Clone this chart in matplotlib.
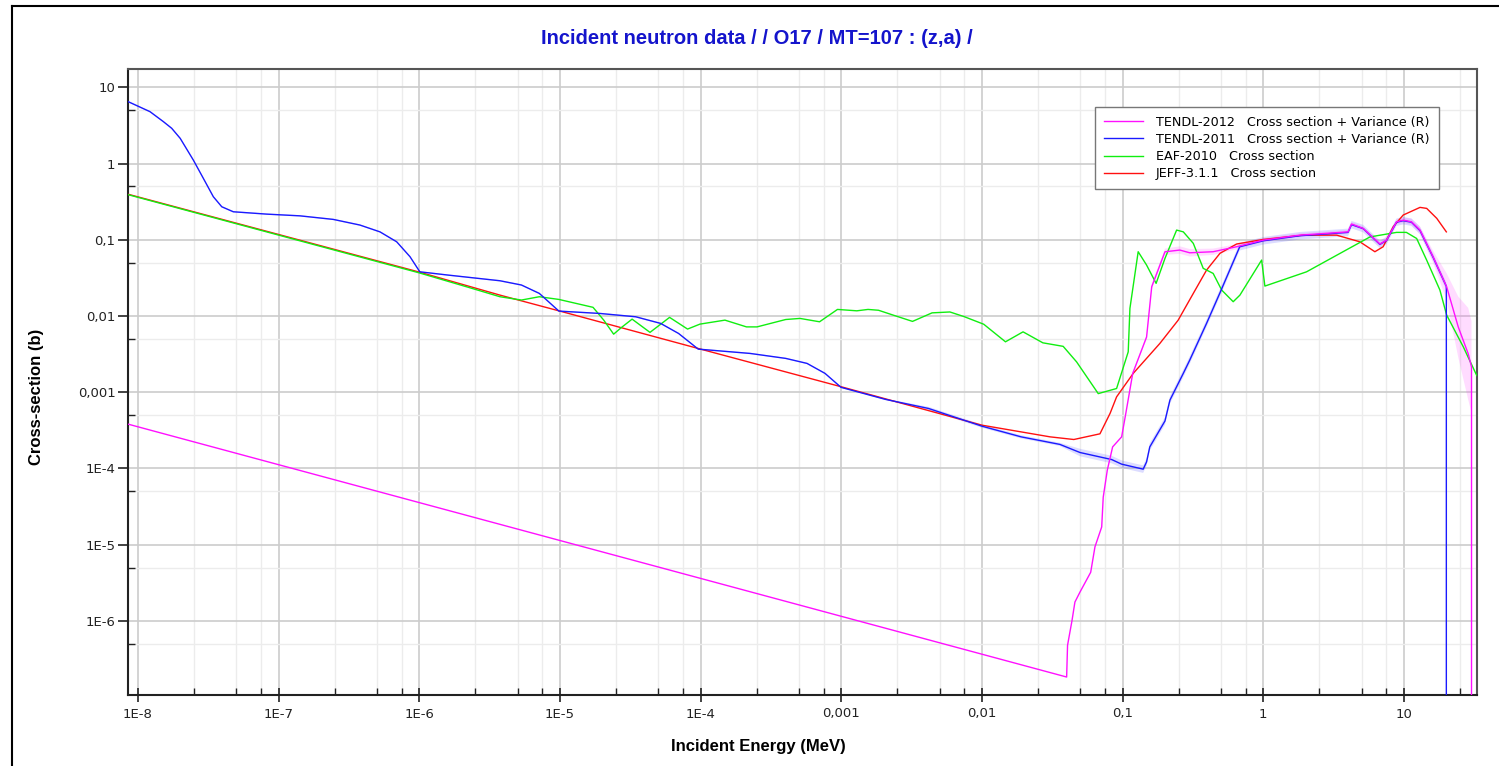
#!/usr/bin/env python3
"""
Incident neutron data, O17 MT=107 (z,a): evaluated cross sections vs energy.
Draws the four evaluations on log-log axes, like the JANIS style plot.
"""

import numpy as np
import matplotlib
matplotlib.use("Agg")
import matplotlib.pyplot as plt
from matplotlib.lines import Line2D
from matplotlib.ticker import FixedLocator, FixedFormatter, NullFormatter

# ---- data (energy in MeV, cross section in b) ----
t12_energy = [8.6e-9, 0.040, 0.0406, 0.0437, 0.0458, 0.0498, 0.0593, 0.0636, 0.071,
              0.0728, 0.0778, 0.0849, 0.0984, 0.1054, 0.118, 0.148, 0.161, 0.2, 0.255,
              0.30, 0.44, 0.645, 1.0, 1.82, 4.0, 4.24, 5.13, 6.74, 7.52, 8.85, 9.87,
              11.3, 13.0, 16.1, 20.1, 24.3, 28.6, 30.2, 30.2]
t12_xs = [3.8e-4, 1.84e-7, 4.8e-7, 1.02e-6, 1.77e-6, 2.4e-6, 4.35e-6, 9.4e-6, 1.71e-5,
          4.2e-5, 9.5e-5, 1.92e-4, 2.6e-4, 5.3e-4, 1.77e-3, 5.3e-3, 0.0242, 0.0696, 0.0733,
          0.0675, 0.0697, 0.081, 0.099, 0.115, 0.127, 0.161, 0.141, 0.088, 0.099, 0.172,
          0.181, 0.172, 0.134, 0.0598, 0.0242, 0.0072, 0.0032, 0.00215, 1e-12]
# relative variance (1 sigma) for TENDL-2012
t12_rel = [0, 0, 0, 0, 0, 0, 0, 0, 0,
           0, 0, 0, 0, 0, 0.05, 0.06, 0.08, 0.1, 0.12,
           0.12, 0.1, 0.08, 0.06, 0.06, 0.06, 0.06, 0.06, 0.08, 0.08, 0.08, 0.08,
           0.1, 0.12, 0.2, 0.5, 1.5, 3.0, 3.0, 0]

t11_energy = [8.55e-9, 1.22e-8, 1.52e-8, 1.74e-8, 2.0e-8, 2.48e-8, 2.92e-8, 3.44e-8,
              3.95e-8, 4.77e-8, 8.24e-8, 1.42e-7, 2.45e-7, 3.79e-7, 5.26e-7, 6.92e-7,
              8.6e-7, 1.01e-6, 1.61e-6, 3.75e-6, 5.33e-6, 7.14e-6, 9.84e-6, 1.93e-5,
              3.46e-5, 5.2e-5, 6.98e-5, 9.62e-5, 2.25e-4, 4.03e-4, 5.71e-4, 7.66e-4,
              9.96e-4, 2.07e-3, 4.17e-3, 1.0e-2, 1.9e-2, 3.58e-2, 0.0498, 0.0836, 0.0984,
              0.140, 0.148, 0.156, 0.2, 0.217, 0.27, 0.30, 0.395, 0.49, 0.68, 1.0, 1.82,
              4.0, 4.24, 5.13, 6.74, 7.52, 8.85, 9.87, 11.3, 13.0, 16.1, 20.0, 20.0]
t11_xs = [6.47, 4.79, 3.54, 2.9, 2.14, 1.11, 0.64, 0.367,
          0.271, 0.233, 0.217, 0.206, 0.185, 0.156, 0.127, 0.094,
          0.060, 0.038, 0.0344, 0.029, 0.0255, 0.0198, 0.0116, 0.0108,
          0.00977, 0.0080, 0.0059, 0.00368, 0.00323, 0.00278, 0.00239, 0.00177,
          0.00116, 8.05e-4, 6.13e-4, 3.59e-4, 2.6e-4, 2.07e-4, 1.62e-4, 1.31e-4, 1.14e-4,
          9.8e-5, 1.22e-4, 1.92e-4, 4.2e-4, 7.9e-4, 1.77e-3, 2.64e-3, 8.0e-3, 0.0198, 0.081,
          0.097, 0.113, 0.125, 0.158, 0.14, 0.087, 0.098, 0.17, 0.178, 0.17, 0.132, 0.059,
          0.0245, 1e-12]
t11_rel = [0.02] * 34 + [0.05] * 4 + [0.12] * 26 + [0]

eaf_energy = [8.55e-9, 1e-6, 2.2e-6, 3.75e-6, 5.33e-6, 7.14e-6, 9.84e-6, 1.72e-5, 2.05e-5,
              2.41e-5, 2.74e-5, 3.26e-5, 4.37e-5, 6.02e-5, 8.08e-5, 9.9e-5, 1.49e-4,
              2.12e-4, 2.52e-4, 4.03e-4, 5.09e-4, 7.01e-4, 9.4e-4, 1.29e-3, 1.55e-3,
              1.84e-3, 2.33e-3, 3.21e-3, 4.42e-3, 5.92e-3, 7.49e-3, 1.03e-2, 1.47e-2,
              1.96e-2, 2.71e-2, 3.78e-2, 4.71e-2, 6.71e-2, 9.06e-2, 0.1096, 0.1127, 0.129,
              0.148, 0.173, 0.2, 0.242, 0.27, 0.318, 0.374, 0.44, 0.506, 0.611, 0.682,
              0.973, 1.026, 2.03, 5.73, 8.85, 10.4, 12.3, 14.5, 18.0, 20.1, 26.4, 32.8, 40.0]
eaf_xs = [0.39, 0.0368, 0.024, 0.0179, 0.0162, 0.0179, 0.0165, 0.0130, 0.00883,
          0.00578, 0.00708, 0.0091, 0.0061, 0.0096, 0.00674, 0.00783, 0.00883,
          0.0072, 0.0072, 0.0090, 0.0093, 0.0084, 0.0122, 0.0117, 0.0122,
          0.0119, 0.0103, 0.0085, 0.0110, 0.0113, 0.0098, 0.0078, 0.00459,
          0.0062, 0.00445, 0.0040, 0.0025, 9.6e-4, 1.12e-3, 3.39e-3, 0.0126, 0.0697,
          0.0466, 0.0268, 0.057, 0.134, 0.127, 0.0897, 0.0422, 0.0362, 0.0219, 0.0154, 0.0188,
          0.0542, 0.0247, 0.038, 0.109, 0.125, 0.125, 0.104, 0.054, 0.0219, 0.0103, 0.00394,
          0.00168, 0.0011]

jeff_energy = [8.55e-9, 1e-6, 3.75e-6, 1e-5, 1e-4, 1e-3, 1e-2, 0.0305, 0.045, 0.069,
               0.0815, 0.0906, 0.119, 0.184, 0.248, 0.318, 0.395, 0.492, 0.646, 1.0,
               1.92, 3.32, 4.86, 6.21, 7.11, 8.38, 9.87, 13.0, 14.5, 17.1, 20.0]
jeff_xs = [0.395, 0.0377, 0.0188, 0.0116, 0.00368, 0.00118, 3.7e-4, 2.6e-4, 2.4e-4, 2.85e-4,
           5.3e-4, 8.7e-4, 1.77e-3, 4.37e-3, 8.8e-3, 0.0198, 0.040, 0.0664, 0.088, 0.101,
           0.115, 0.115, 0.094, 0.0697, 0.081, 0.148, 0.211, 0.266, 0.258, 0.191, 0.127]

labels = ["TENDL-2012   Cross section + Variance (R)",
          "TENDL-2011   Cross section + Variance (R)",
          "EAF-2010   Cross section",
          "JEFF-3.1.1   Cross section"]

x_ticks = [1e-8, 1e-7, 1e-6, 1e-5, 1e-4, 1e-3, 1e-2, 0.1, 1, 10]
x_ticklabels = ["1E-8", "1E-7", "1E-6", "1E-5", "1E-4", "0,001", "0,01", "0,1", "1", "10"]
y_ticks = [10, 1, 0.1, 0.01, 0.001, 1e-4, 1e-5, 1e-6]
y_ticklabels = ["10", "1", "0,1", "0,01", "0,001", "1E-4", "1E-5", "1E-6"]


def band(ax, e, xs, rel, color, alpha):
    e = np.array(e)
    xs = np.array(xs)
    rel = np.array(rel)
    ok = rel > 0
    ax.fill_between(e, np.where(ok, xs / (1 + rel), xs), np.where(ok, xs * (1 + rel), xs),
                    color=color, alpha=alpha, lw=0, zorder=2)


def main():
    fig = plt.figure(figsize=(14.99, 7.66), dpi=100)
    ax = fig.add_axes([128 / 1499, 1 - 695 / 766, 1349 / 1499, 626 / 766])

    # uncertainty bands first, then the curves
    band(ax, t11_energy, t11_xs, t11_rel, "#4040ff", 0.18)
    band(ax, t12_energy, t12_xs, t12_rel, "#ff40ff", 0.18)

    ax.plot(jeff_energy, jeff_xs, color="#ff1010", lw=1.0, zorder=3, label=labels[3])
    ax.plot(eaf_energy, eaf_xs, color="#10ee10", lw=1.0, zorder=4, label=labels[2])
    ax.plot(t11_energy, t11_xs, color="#1a1aff", lw=1.0, zorder=5, label=labels[1])
    ax.plot(t12_energy, t12_xs, color="#ff10ff", lw=1.0, zorder=6, label=labels[0])

    ax.set_xscale("log")
    ax.set_yscale("log")
    ax.set_xlim(10 ** -8.07, 10 ** 1.519)
    ax.set_ylim(10 ** -6.971, 10 ** 1.24)

    # ticks: majors with comma decimals, minors at 2.5/5/7.5 (x) and 5 (y)
    decades = [10.0 ** k for k in range(-9, 2)]
    ax.xaxis.set_major_locator(FixedLocator(x_ticks))
    ax.xaxis.set_major_formatter(FixedFormatter(x_ticklabels))
    ax.xaxis.set_minor_locator(FixedLocator([d * m for d in decades for m in (2.5, 5, 7.5)]))
    ax.xaxis.set_minor_formatter(NullFormatter())
    ax.yaxis.set_major_locator(FixedLocator(y_ticks))
    ax.yaxis.set_major_formatter(FixedFormatter(y_ticklabels))
    ax.yaxis.set_minor_locator(FixedLocator([10.0 ** k * 5 for k in range(-8, 2)]))
    ax.yaxis.set_minor_formatter(NullFormatter())

    ax.tick_params(axis="x", which="major", direction="inout", length=10, width=1.2,
                   labelsize=9.5, pad=4, colors="#222222")
    ax.tick_params(axis="y", which="major", direction="out", length=7, width=1.2,
                   labelsize=9.5, pad=2, colors="#222222")
    ax.tick_params(which="minor", direction="in", length=5, width=1.0, colors="#222222")

    ax.grid(True, which="major", color="#cccccc", lw=1.2, zorder=0)
    ax.grid(True, which="minor", color="#ececec", lw=1.0, zorder=0)
    ax.set_axisbelow(True)

    for side in ("left", "bottom"):
        ax.spines[side].set_color("#222222")
        ax.spines[side].set_linewidth(1.5)
    for side in ("top", "right"):
        ax.spines[side].set_color("#555555")
        ax.spines[side].set_linewidth(1.5)

    handles, labs = ax.get_legend_handles_labels()
    order = [3, 2, 1, 0]
    leg = ax.legend([handles[i] for i in order], [labs[i] for i in order],
                    loc="upper right", bbox_to_anchor=(0.9715, 0.9395), fontsize=9.2,
                    fancybox=False, framealpha=1, edgecolor="#777777",
                    handlelength=3.1, labelspacing=0.32, borderpad=0.7, handletextpad=1.0,
                    borderaxespad=0)
    leg.get_frame().set_linewidth(1.0)

    fig.text(0.505, 1 - 38 / 766, "Incident neutron data / / O17 / MT=107 : (z,a) /",
             ha="center", va="center", fontsize=14.5, fontweight="bold", color="#1414cc",
             family=["Liberation Sans Narrow", "Liberation Sans", "DejaVu Sans"])
    fig.text(758 / 1499, 1 - 747 / 766, "Incident Energy (MeV)", ha="center", va="center",
             fontsize=12, fontweight="bold", family=["Liberation Sans", "DejaVu Sans"])
    fig.text(37 / 1499, 1 - 397 / 766, "Cross-section (b)", ha="center", va="center",
             rotation=90, fontsize=12, fontweight="bold",
             family=["Liberation Sans", "DejaVu Sans"])

    # outer frame (left and top edges)
    fig.add_artist(Line2D([12 / 1499, 12 / 1499], [0, 1 - 6 / 766], color="black", lw=1.5))
    fig.add_artist(Line2D([12 / 1499, 1], [1 - 6 / 766, 1 - 6 / 766], color="black", lw=1.5))

    fig.savefig("out.png", dpi=100)


if __name__ == "__main__":
    main()
